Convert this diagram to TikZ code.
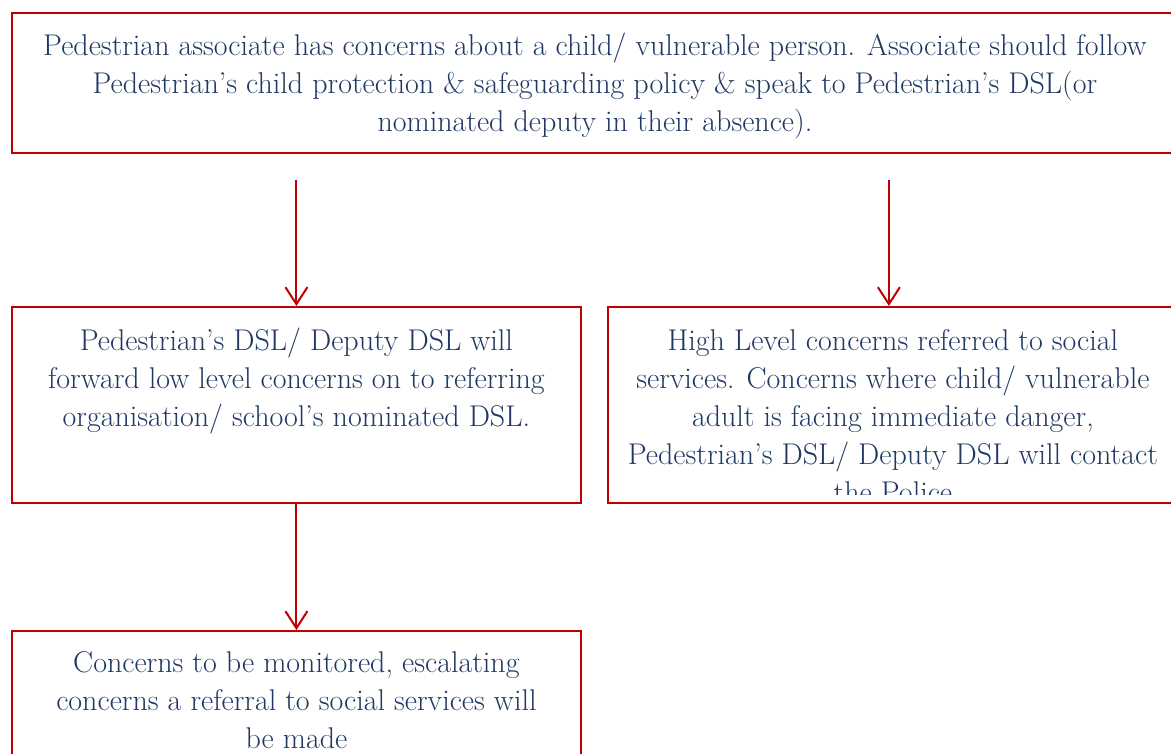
\documentclass[tikz,border=0pt]{standalone}
\usepackage{tikz}
\usetikzlibrary{arrows.meta,positioning}
\definecolor{alertred}{RGB}{192,0,0}
\definecolor{inkblue}{RGB}{31,56,100}

\begin{document}
\begin{tikzpicture}[x=1pt,y=-1pt,>={Straight Barb[length=17pt,width=22pt]}]
  \tikzset{
    box/.style={draw=alertred,line width=1.8pt,anchor=north west,inner sep=0pt},
    txt/.style={text=inkblue,align=center,inner sep=0pt,
                font=\fontsize{30}{38}\selectfont},
    flow/.style={->,draw=alertred,line width=2pt}
  }
  \useasboundingbox (0,0) rectangle (1171,754);
  % boxes
  \node[box,minimum width=1166pt,minimum height=140pt] (concern) at (11,12) {};
  \node[box,minimum width=569pt,minimum height=196pt] (lowlvl) at (11,306) {};
  \node[box,minimum width=570pt,minimum height=196pt] (highlvl) at (607,306) {};
  \node[box,minimum width=569pt,minimum height=180pt] (monitor) at (11,630) {};
  % texts
  \node[txt,below=21pt of concern.north] (concerntxt)
    {Pedestrian associate has concerns about a child/ vulnerable person. Associate should follow\\
     Pedestrian’s child protection \& safeguarding policy \& speak to Pedestrian’s DSL(or\\
     nominated deputy in their absence).};
  \node[txt,below=22pt of lowlvl.north] (lowtxt)
    {Pedestrian’s DSL/ Deputy DSL will\\
     forward low level concerns on to referring\\
     organisation/ school’s nominated DSL.};
  \begin{scope}
    \clip (highlvl.north west) rectangle ([yshift=9pt]highlvl.south east);
    \node[txt,below=23pt of highlvl.north] (hightxt)
      {High Level concerns referred to social\\
       services. Concerns where child/ vulnerable\\
       adult is facing immediate danger,\\
       Pedestrian’s DSL/ Deputy DSL will contact\\
       the Police};
  \end{scope}
  \node[txt,below=21pt of monitor.north] (monitortxt)
    {Concerns to be monitored, escalating\\
     concerns a referral to social services will\\
     be made};
  % arrows
  \draw[flow] (concern.south -| lowlvl.north) ++(0,26) -- (lowlvl.north);
  \draw[flow] (concern.south -| highlvl.north) ++(-4,26) -- ([xshift=-4pt]highlvl.north);
  \draw[flow] (lowlvl.south) -- (monitor.north);
\end{tikzpicture}
\end{document}
